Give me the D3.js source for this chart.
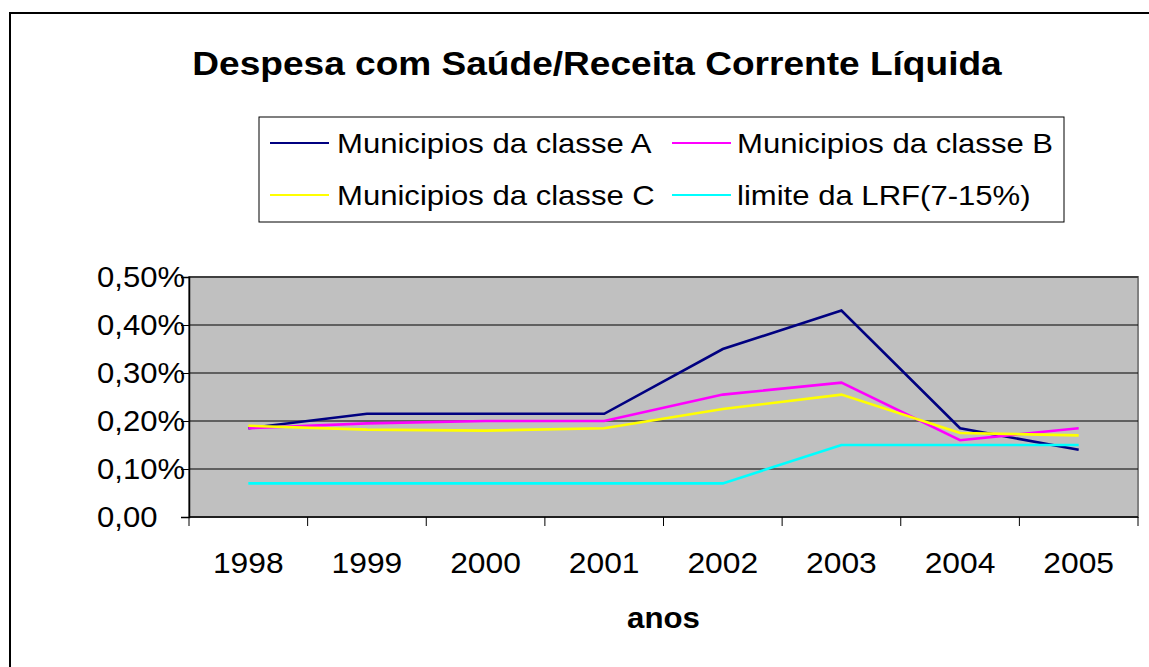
<!DOCTYPE html>
<html>
<head>
<meta charset="utf-8">
<script src="https://cdn.jsdelivr.net/npm/d3@7"></script>
<style>
  body { margin: 0; background: #fff; }
  text { font-family: "Liberation Sans", Arial, sans-serif; }
</style>
</head>
<body>
<div id="chart"></div>
<script>
// data
var anos = ["1998", "1999", "2000", "2001", "2002", "2003", "2004", "2005"];
var classeA = [0.185, 0.215, 0.215, 0.215, 0.35, 0.43, 0.185, 0.14];
var classeB = [0.185, 0.195, 0.20, 0.20, 0.255, 0.28, 0.16, 0.185];
var classeC = [0.19, 0.182, 0.18, 0.185, 0.225, 0.255, 0.175, 0.17];
var limiteLRF = [0.07, 0.07, 0.07, 0.07, 0.07, 0.15, 0.15, 0.15];
var yTicks = [0, 0.1, 0.2, 0.3, 0.4, 0.5];
var yTickLabels = ["0,00", "0,10%", "0,20%", "0,30%", "0,40%", "0,50%"];
var nomes = ["Municipios da classe A", "Municipios da classe B",
             "Municipios da classe C", "limite da LRF(7-15%)"];
var cores = ["#000080", "#FF00FF", "#FFFF00", "#00FFFF"];

var series = [classeA, classeB, classeC, limiteLRF].map(function(v, i) {
  return { name: nomes[i], color: cores[i], values: v };
});

var W = 1149, H = 667;
var plot = { left: 189, top: 277, right: 1138, bottom: 517 };

// the original text is a bit wider than Liberation Sans, stretch it
function stretch(sel, k) {
  sel.each(function() {
    var w = this.getComputedTextLength();
    d3.select(this)
      .attr("textLength", w * k)
      .attr("lengthAdjust", "spacingAndGlyphs");
  });
}

var svg = d3.select("#chart")
  .append("svg")
    .attr("width", W)
    .attr("height", H);

// outer chart border (runs off the page on the right/bottom)
svg.append("rect")
  .attr("x", 10).attr("y", 13)
  .attr("width", 1200).attr("height", 700)
  .attr("fill", "none")
  .attr("stroke", "#000")
  .attr("stroke-width", 2);

svg.append("text")
  .attr("x", 597).attr("y", 75)
  .attr("text-anchor", "middle")
  .attr("font-size", 34)
  .attr("font-weight", "bold")
  .text("Despesa com Saúde/Receita Corrente Líquida")
  .call(stretch, 1.09);

var x = d3.scaleBand()
  .domain(anos)
  .range([plot.left, plot.right]);

var y = d3.scaleLinear()
  .domain([0, 0.5])
  .range([plot.bottom, plot.top]);

// plot area
svg.append("rect")
  .attr("x", plot.left).attr("y", plot.top)
  .attr("width", plot.right - plot.left)
  .attr("height", plot.bottom - plot.top)
  .attr("fill", "#C0C0C0")
  .attr("stroke", "#808080")
  .attr("stroke-width", 2);

// gridlines
svg.append("g")
  .selectAll("line")
  .data(yTicks.slice(1))
  .enter().append("line")
    .attr("x1", plot.left).attr("x2", plot.right)
    .attr("y1", d => y(d)).attr("y2", d => y(d))
    .attr("stroke", "#000")
    .attr("stroke-width", 1);

// y axis
var yAxis = svg.append("g")
  .attr("transform", "translate(" + plot.left + ",0)")
  .call(d3.axisLeft(y).tickValues(yTicks).tickSize(8).tickFormat(""));
yAxis.select(".domain").attr("stroke", "#000").attr("stroke-width", 1.5);

svg.append("g")
  .selectAll("text")
  .data(yTicks)
  .enter().append("text")
    .attr("x", 97)
    .attr("y", d => y(d))
    .attr("dy", "0.36em")
    .attr("font-size", 29)
    .text((d, i) => yTickLabels[i])
    .call(stretch, 1.07);

// x axis (ticks between categories)
var xAxis = svg.append("g")
  .attr("transform", "translate(0," + plot.bottom + ")");
xAxis.append("line")
  .attr("x1", plot.left).attr("x2", plot.right)
  .attr("stroke", "#000").attr("stroke-width", 1.5);
xAxis.selectAll(".tk")
  .data(anos.concat(["end"]))
  .enter().append("line")
    .attr("class", "tk")
    .attr("x1", d => d === "end" ? plot.right : x(d))
    .attr("x2", d => d === "end" ? plot.right : x(d))
    .attr("y1", 0).attr("y2", 9)
    .attr("stroke", "#000");
xAxis.selectAll("text")
  .data(anos)
  .enter().append("text")
    .attr("x", d => x(d) + x.bandwidth() / 2)
    .attr("y", 56)
    .attr("text-anchor", "middle")
    .attr("font-size", 30)
    .text(d => d)
    .call(stretch, 1.06);

svg.append("text")
  .attr("x", (plot.left + plot.right) / 2)
  .attr("y", 628)
  .attr("text-anchor", "middle")
  .attr("font-size", 30)
  .attr("font-weight", "bold")
  .text("anos")
  .call(stretch, 1.04);

// lines
var line = d3.line()
  .x((d, i) => x(anos[i]) + x.bandwidth() / 2)
  .y(d => y(d));

svg.append("g")
  .selectAll("path")
  .data(series)
  .enter().append("path")
    .attr("d", d => line(d.values))
    .attr("fill", "none")
    .attr("stroke", d => d.color)
    .attr("stroke-width", 2.6);

// legend
var legend = svg.append("g");
legend.append("rect")
  .attr("x", 259).attr("y", 117)
  .attr("width", 805).attr("height", 105)
  .attr("fill", "#fff")
  .attr("stroke", "#000")
  .attr("stroke-width", 1);

var colX = [270, 672], rowY = [143, 195];
var item = legend.selectAll(".item")
  .data(series)
  .enter().append("g")
    .attr("class", "item")
    .attr("transform", (d, i) => "translate(" + colX[i % 2] + "," + rowY[Math.floor(i / 2)] + ")");
item.append("line")
  .attr("x1", 0).attr("x2", 59)
  .attr("stroke", d => d.color)
  .attr("stroke-width", 2);
item.append("text")
  .attr("x", (d, i) => i % 2 ? 65 : 67)
  .attr("dy", "0.36em")
  .attr("font-size", 27.5)
  .text(d => d.name)
  .call(stretch, 1.13);
</script>
</body>
</html>
